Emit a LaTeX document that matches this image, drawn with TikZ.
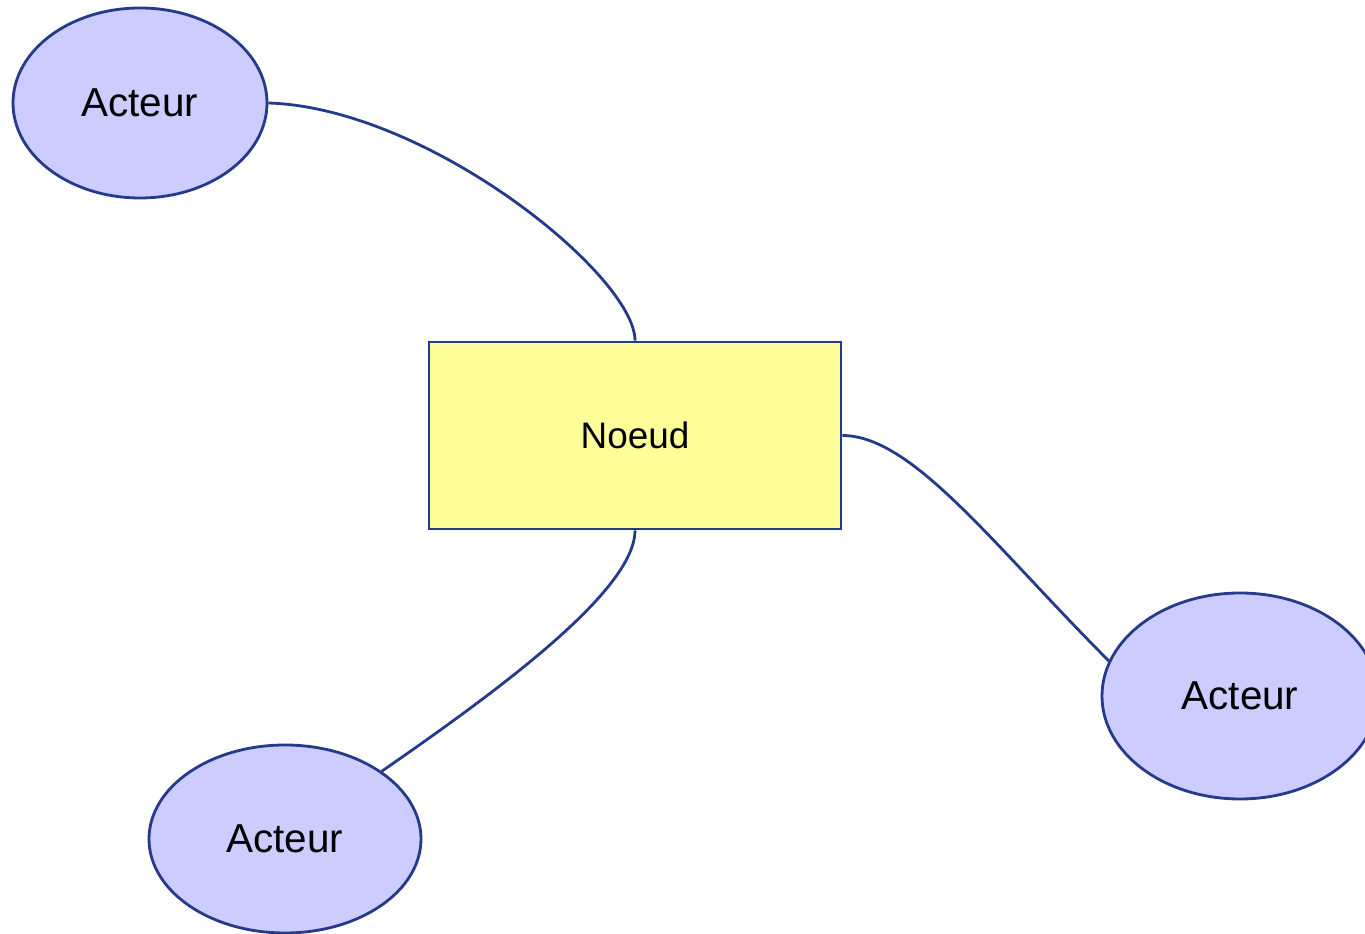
\documentclass[tikz,border=0pt]{standalone}
\usepackage{fontspec}
\setmainfont{Liberation Sans}
\usetikzlibrary{shapes.geometric}

\definecolor{trait}{RGB}{38,58,140}
\definecolor{fondacteur}{RGB}{204,204,255}
\definecolor{fondnoeud}{RGB}{255,255,153}

\tikzset{
    acteur/.style={ellipse, draw=trait, fill=fondacteur, line width=1.6pt,
        font=\fontsize{23}{27}\selectfont},
    noeud/.style={rectangle, draw=trait, fill=fondnoeud, line width=1.6pt,
        minimum width=8.24cm, minimum height=3.74cm,
        font=\fontsize{21}{25}\selectfont},
    lien/.style={draw=trait, line width=1.6pt}
}

\begin{document}
\begin{tikzpicture}
        \useasboundingbox (0,0) rectangle (27.3,18.68);

        \node[noeud] (n) at (12.7,9.97) {Noeud};
        \node[acteur, minimum width=5.08cm, minimum height=3.8cm] (a1) at (2.8,16.62) {Acteur};
        \node[acteur, minimum width=5.52cm, minimum height=4.12cm] (a2) at (24.8,4.76) {Acteur};
        \node[acteur, minimum width=5.44cm, minimum height=3.76cm] (a3) at (5.7,1.9) {Acteur};

        \draw[lien] (a1.east) .. controls +(3.2,-0.1) and +(0,1.3) .. (n.north);
        \draw[lien] (n.east) .. controls +(1.4,0) and +(-2.3,2.3) .. (a2.165);
        \draw[lien] (n.south) .. controls +(0,-1.2) and +(2.34,1.62) .. (a3.35);
    \end{tikzpicture}
\end{document}
